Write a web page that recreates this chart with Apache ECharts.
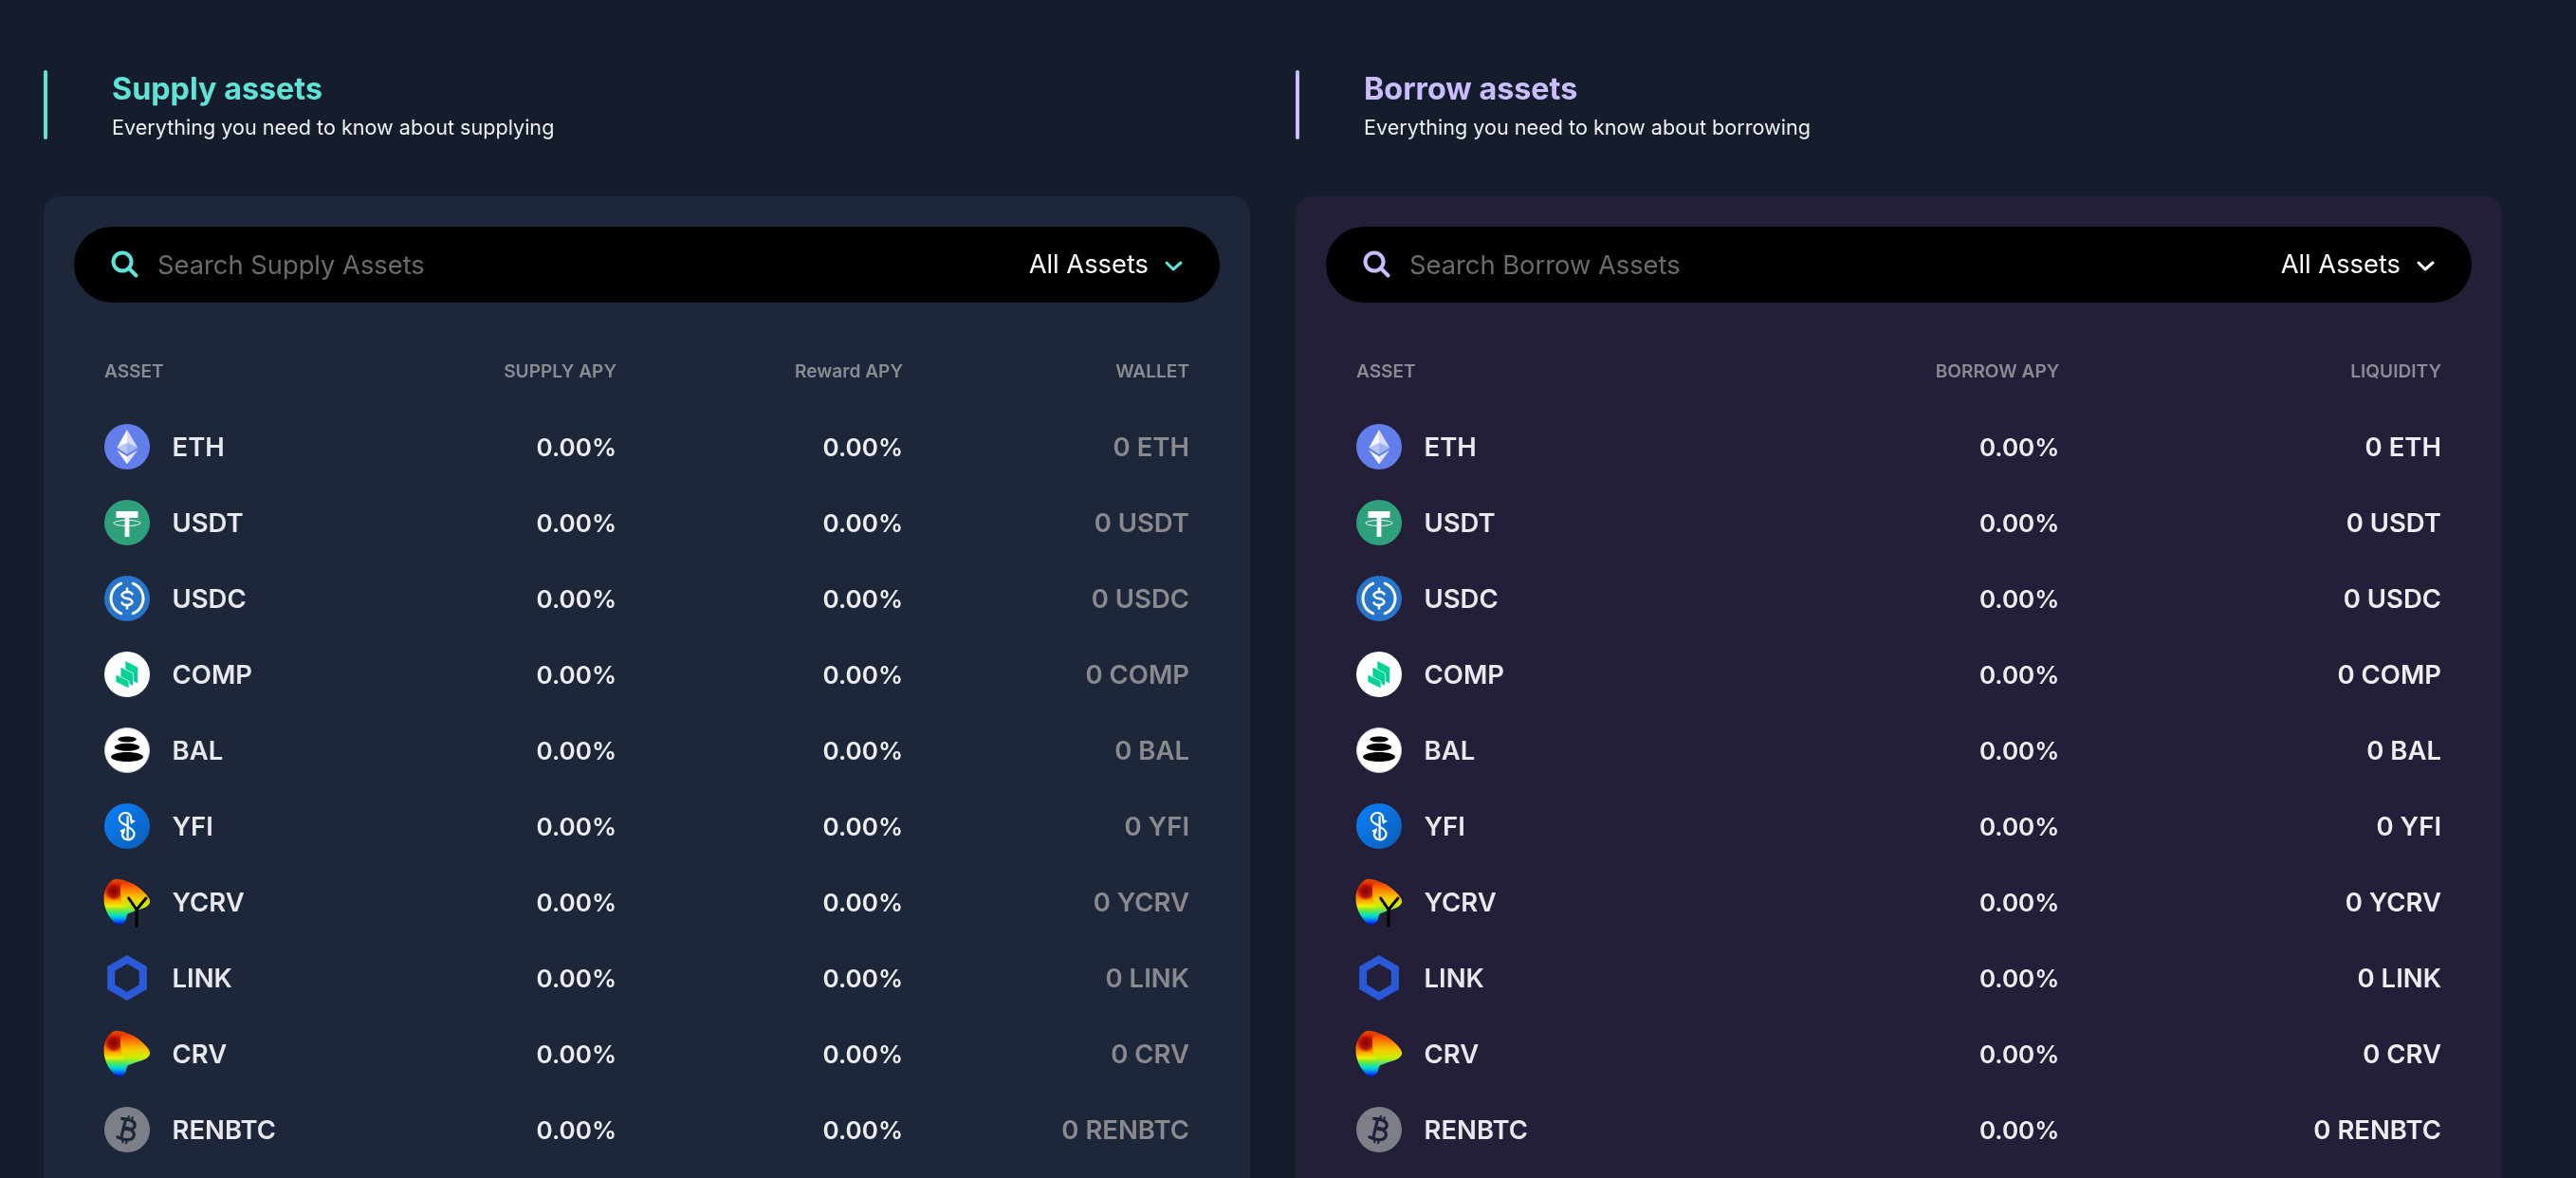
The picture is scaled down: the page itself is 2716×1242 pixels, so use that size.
<!DOCTYPE html>
<html>
<head>
<meta charset="utf-8">
<style>html,body{margin:0;padding:0;background:#151c2b;overflow:hidden}#c{width:2716px;height:1242px}</style>
<script src="https://cdn.jsdelivr.net/npm/echarts@6/dist/echarts.min.js"></script>
</head>
<body>
<div id="c"></div>
<script>
const assets = ['ETH','USDT','USDC','COMP','BAL','YFI','YCRV','LINK','CRV','RENBTC'];
const supplyColumns = ['ASSET','SUPPLY APY','Reward APY','WALLET'];
const borrowColumns = ['ASSET','BORROW APY','LIQUIDITY'];
const supplyApy = [0,0,0,0,0,0,0,0,0,0];
const rewardApy = [0,0,0,0,0,0,0,0,0,0];
const walletBalance = [0,0,0,0,0,0,0,0,0,0];
const borrowApy = [0,0,0,0,0,0,0,0,0,0];
const liquidity = [0,0,0,0,0,0,0,0,0,0];

const FONT = 'Inter';
const HEADER_ROW = ' ';
const TEAL = '#5fe3d6', LILAC = '#c9bcff';
const rowAxis = [HEADER_ROW].concat(assets);
const pct = v => v.toFixed(2) + '%';

/* ---------- icons, local coordinates around the icon centre ---------- */
const W = '#ffffff';
const circle = (r, style, cx, cy) => ({type:'circle', shape:{cx:cx||0, cy:cy||0, r}, style});
const ell = (cx, cy, rx, ry, style) => ({type:'ellipse', shape:{cx, cy, rx, ry}, style});
const poly = (points, fill, extra) => ({type:'polygon', shape:{points}, style:Object.assign({fill}, extra||{})});
const line = (points, stroke, lineWidth, smooth) => ({type:'polyline', shape:{points, smooth:smooth||0},
  style:{fill:null, stroke, lineWidth, lineCap:'round', lineJoin:'round'}});
const vGrad = stops => new echarts.graphic.LinearGradient(0,0,0,1, stops.map(c=>({offset:c[0], color:c[1]})));

function crvShape() {
  return [
    {type:'polygon', shape:{smooth:0.35, points:[[-13,-24],[4,-20],[17,-11],[24,-1],[20,5],[9,9],[1,12],[-2,20],[-8,24.5],[-15,20],[-22,9],[-24.5,-4],[-22,-15]]},
      style:{fill:vGrad([[0,'#e64a00'],[0.2,'#d82000'],[0.42,'#ff8a00'],[0.58,'#f0ee00'],[0.7,'#50e850'],[0.8,'#00dcd0'],[0.9,'#0070ff'],[1,'#0000d8']])}},
    ell(-14,-11,10,13,{fill:new echarts.graphic.RadialGradient(0.5,0.5,0.5,[{offset:0,color:'rgba(120,5,0,1)'},{offset:0.6,color:'rgba(170,10,0,0.85)'},{offset:1,color:'rgba(220,30,0,0)'}])}),
    {type:'polygon', shape:{smooth:0.35, points:[[-6,-19],[4,-20],[17,-11],[24,-1],[20,5],[9,9],[-1,12],[-5,3]]},
      style:{fill:vGrad([[0,'#f03800'],[0.25,'#ff8000'],[0.5,'#f8c800'],[0.75,'#c8f000'],[1,'#30e090']])}}
  ];
}

const iconBuilders = {
  ETH: () => [
    circle(24,{fill:'#627eea'}),
    poly([[0,-18],[-10.7,1],[0,-4]],'rgba(255,255,255,0.95)'),
    poly([[0,-18],[11.2,1],[0,-4]],'rgba(255,255,255,0.72)'),
    poly([[0,-4],[-10.7,1],[0,8]],'rgba(255,255,255,0.55)'),
    poly([[0,-4],[11.2,1],[0,8]],'rgba(255,255,255,0.4)'),
    poly([[-10.7,3.6],[0,10.2],[0,18.5]],'rgba(255,255,255,0.98)'),
    poly([[11.2,3.6],[0,10.2],[0,18.5]],'rgba(255,255,255,0.78)')
  ],
  USDT: () => [
    circle(24,{fill:'#2ea07b'}),
    {type:'rect', shape:{x:-11.5,y:-12,width:23,height:7}, style:{fill:W}},
    {type:'rect', shape:{x:-2.4,y:-6,width:4.8,height:21}, style:{fill:W}},
    ell(0,0.5,14,3,{fill:null,stroke:W,lineWidth:1})
  ],
  USDC: () => [
    circle(24,{fill:'#2775ca'}),
    {type:'arc', shape:{cx:0,cy:0,r:17,startAngle:Math.PI*0.62,endAngle:Math.PI*1.38,clockwise:true}, style:{fill:null,stroke:W,lineWidth:3,lineCap:'round'}},
    {type:'arc', shape:{cx:0,cy:0,r:17,startAngle:-Math.PI*0.38,endAngle:Math.PI*0.38,clockwise:true}, style:{fill:null,stroke:W,lineWidth:3,lineCap:'round'}},
    line([[5.5,-4.5],[3,-6.6],[-2,-6.8],[-5.5,-3.8],[-3,-0.8],[0,0],[3,0.8],[5.5,3.8],[2,6.8],[-3,6.6],[-5.5,4.5]],W,2.5,0.5),
    line([[0,-10.5],[0,-7]],W,2.5),
    line([[0,7],[0,10.5]],W,2.5)
  ],
  COMP: () => [
    circle(24,{fill:W}),
    poly([[-2,-14.5],[11.5,-7.5],[11.5,10],[-2,3]],'#00d395',{stroke:W,lineWidth:0.8}),
    poly([[-7,-8],[6.5,-1],[6.5,12.5],[-7,5.5]],'#00d395',{stroke:W,lineWidth:0.8}),
    poly([[-12,0],[2,7],[2,15],[-12,8]],'#00d395',{stroke:W,lineWidth:0.8})
  ],
  BAL: () => [
    circle(23.5,{fill:W,stroke:'#c9c9c9',lineWidth:1}),
    ell(0,-11.5,9.7,2.9,{fill:'#000'}),
    ell(0,-3.2,13.3,4,{fill:'#000'}),
    ell(0,7,17,5,{fill:'#000'})
  ],
  YFI: () => [
    circle(24,{fill:new echarts.graphic.LinearGradient(0,0,1,1,[{offset:0,color:'#0b82fa'},{offset:1,color:'#0a5cb8'}])}),
    line([[0.6,-10],[0.6,12]],W,2.2),
    line([[4,-7],[3,-12],[-2,-14],[-7,-11.5],[-8,-6.5],[-4,-2.5],[0,-0.5]],W,2.2,0.5),
    poly([[3,-7.5],[9,-5.5],[4,-2]],W),
    line([[-4,6],[-5,10],[-1,14],[5,13],[7.5,8],[5,3.5],[1,1]],W,2.2,0.5),
    poly([[-2,2],[-8,5],[-3,8.5]],W)
  ],
  YCRV: () => crvShape().concat([
    line([[1.7,-4],[10,8],[20,-4]],'#000',3),
    line([[10,8],[10,25]],'#000',3.2)
  ]),
  LINK: () => [
    {type:'polygon', shape:{points:[[0,-19.4],[16.8,-9.7],[16.8,9.7],[0,19.4],[-16.8,9.7],[-16.8,-9.7]]},
      style:{fill:null,stroke:'#2a5ada',lineWidth:8,lineJoin:'miter'}}
  ],
  CRV: () => crvShape(),
  RENBTC: panel => [
    circle(24,{fill:'#7c7f87'}),
    {type:'group', rotation:-0.24, children:[
      line([[-8,-10],[3,-10],[7,-5.5],[3,-1],[-4,-1]],panel,3.2,0.5),
      line([[-4,-1],[4,-1],[8.5,4.5],[4,10],[-8,10]],panel,3.2,0.5),
      line([[-4,-10],[-4,10]],panel,3.2),
      line([[-1.5,-14],[-1.5,-10]],panel,2.2),
      line([[2.5,-14],[2.5,-10]],panel,2.2),
      line([[-1.5,10],[-1.5,14]],panel,2.2),
      line([[2.5,10],[2.5,14]],panel,2.2)
    ]}
  ]
};

/* ---------- table series, laid out by the hidden category axes ---------- */
const ASSET_INSET = 64, ICON_CX = 88, NAME_X = 135.5, TEXT_DY = 1.7, HEADER_DY = 1;

function textEl(x, y, text, align, fill, size, weight) {
  return {type:'text', x, y, style:{text, align, verticalAlign:'middle', fill, fontSize:size, fontWeight:weight, fontFamily:FONT}};
}
function headerSeries(grid, columns) {
  return {type:'custom', xAxisIndex:grid, yAxisIndex:grid, clip:false, silent:true,
    data:columns.map(c=>[c,HEADER_ROW]), encode:{x:0,y:1},
    renderItem(p, api){
      const c = api.coord([api.value(0), api.value(1)]), band = api.size([1,0])[0];
      return p.dataIndex === 0
        ? textEl(c[0]-band/2+ASSET_INSET, c[1]+HEADER_DY, columns[0], 'left', '#8a8c94', 19.1, 600)
        : textEl(c[0]+band/2, c[1]+HEADER_DY, columns[p.dataIndex], 'right', '#8a8c94', 19.1, 600);
    }};
}
function assetSeries(grid, column, panelColor) {
  return {type:'custom', xAxisIndex:grid, yAxisIndex:grid, clip:false, silent:true,
    data:assets.map(a=>[column,a]), encode:{x:0,y:1},
    renderItem(p, api){
      const c = api.coord([api.value(0), api.value(1)]), band = api.size([1,0])[0];
      const left = c[0]-band/2, name = assets[p.dataIndex];
      return {type:'group', children:[
        {type:'group', x:left+ICON_CX, y:c[1], children:iconBuilders[name](panelColor)},
        textEl(left+NAME_X, c[1]+TEXT_DY, name, 'left', '#e8e8ee', 27.5, 600)
      ]};
    }};
}
function valueSeries(grid, column, values, fmt, color, size) {
  return {type:'custom', name:column, xAxisIndex:grid, yAxisIndex:grid, clip:false, silent:true,
    data:assets.map(a=>[column,a]), encode:{x:0,y:1},
    renderItem(p, api){
      const c = api.coord([api.value(0), api.value(1)]), band = api.size([1,0])[0];
      return textEl(c[0]+band/2, c[1]+TEXT_DY, fmt(values[p.dataIndex], assets[p.dataIndex]), 'right', color, size, 600);
    }};
}
const balance = (v, a) => v + ' ' + a;

/* ---------- page furniture ---------- */
function chrome(dx, panel, accent, title, sub, search, chevron) {
  const px = 46 + dx;
  return [
    {type:'rect', z:0, shape:{x:px,y:207,width:1272,height:1100,r:18}, style:{fill:panel}},
    {type:'rect', z:1, shape:{x:px,y:74,width:4,height:73,r:2}, style:{fill:accent}},
    {type:'text', z:1, x:118+dx, y:95.5, style:{text:title, fill:accent, fontFamily:FONT, fontSize:32.3, fontWeight:700, verticalAlign:'middle'}},
    {type:'text', z:1, x:118+dx, y:135.5, style:{text:sub, fill:'#f2f2f5', fontFamily:FONT, fontSize:21.6, fontWeight:400, verticalAlign:'middle'}},
    {type:'rect', z:1, shape:{x:78+dx,y:239,width:1208,height:80,r:40}, style:{fill:'#000'}},
    {type:'circle', z:2, shape:{cx:129+dx,cy:276,r:9.5}, style:{fill:null,stroke:accent,lineWidth:4}},
    {type:'line', z:2, shape:{x1:136.5+dx,y1:283.5,x2:143.5+dx,y2:290.5}, style:{stroke:accent,lineWidth:4,lineCap:'round'}},
    {type:'text', z:2, x:166+dx, y:280.5, style:{text:search, fill:'#6b6b6b', fontFamily:FONT, fontSize:27.3, fontWeight:400, verticalAlign:'middle'}},
    {type:'text', z:2, x:1211+dx, y:279.5, style:{text:'All Assets', fill:'#fff', fontFamily:FONT, fontSize:27.3, fontWeight:400, align:'right', verticalAlign:'middle'}},
    {type:'polyline', z:2, shape:{points:[[1230+dx,277],[1237+dx,284],[1245+dx,277]]}, style:{fill:null,stroke:chevron,lineWidth:3,lineCap:'round',lineJoin:'round'}}
  ];
}

const PANEL_A = '#1e2739', PANEL_B = '#231f38';
const mkGrid = left => ({left, width:1208, top:351, height:880, containLabel:false});
const mkX = (i, data) => ({type:'category', gridIndex:i, data, show:false, boundaryGap:true});
const mkY = i => ({type:'category', gridIndex:i, data:rowAxis, inverse:true, show:false});

const chart = echarts.init(document.getElementById('c'), null, {renderer:'canvas', width:2716, height:1242});
chart.setOption({
  animation:false,
  backgroundColor:'#151c2b',
  tooltip:{show:false},
  legend:{show:false},
  graphic:{elements: chrome(0, PANEL_A, TEAL, 'Supply assets', 'Everything you need to know about supplying', 'Search Supply Assets', TEAL)
    .concat(chrome(1320, PANEL_B, LILAC, 'Borrow assets', 'Everything you need to know about borrowing', 'Search Borrow Assets', '#ffffff'))},
  grid:[mkGrid(46), mkGrid(1366)],
  xAxis:[mkX(0,supplyColumns), mkX(1,borrowColumns)],
  yAxis:[mkY(0), mkY(1)],
  series:[
    headerSeries(0, supplyColumns),
    assetSeries(0, supplyColumns[0], PANEL_A),
    valueSeries(0, supplyColumns[1], supplyApy, pct, '#eeeef2', 26),
    valueSeries(0, supplyColumns[2], rewardApy, pct, '#eeeef2', 26),
    valueSeries(0, supplyColumns[3], walletBalance, balance, '#8a8a8e', 27.5),
    headerSeries(1, borrowColumns),
    assetSeries(1, borrowColumns[0], PANEL_B),
    valueSeries(1, borrowColumns[1], borrowApy, pct, '#eeeef2', 26),
    valueSeries(1, borrowColumns[2], liquidity, balance, '#eeeef2', 27.5)
  ]
});
</script>
</body>
</html>
